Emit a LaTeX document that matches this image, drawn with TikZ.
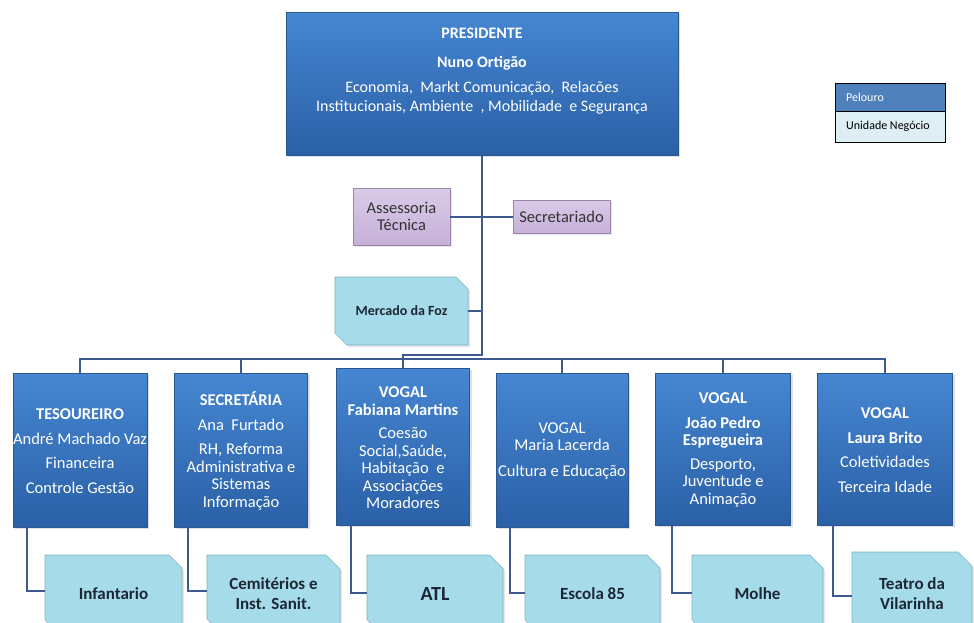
\documentclass[tikz,border=0pt]{standalone}
\usepackage{fontspec}
\setmainfont{Carlito}
\usetikzlibrary{shapes.misc,shadows}
\definecolor{bluetop}{HTML}{4686D2}
\definecolor{bluebot}{HTML}{2A60A6}
\definecolor{blueline}{HTML}{2B5791}
\definecolor{conn}{HTML}{3D5A8E}
\definecolor{cyanfill}{HTML}{A6DBE9}
\definecolor{cyanline}{HTML}{7DB3C4}
\definecolor{cyantext}{HTML}{1B2636}
\definecolor{lilac}{HTML}{C6B0D9}
\definecolor{lilactop}{HTML}{DACBE7}
\definecolor{lilacline}{HTML}{9C86B1}
\definecolor{legblue}{HTML}{4F81BD}
\definecolor{leglight}{HTML}{DDEEF5}
\tikzset{
  pelbox/.style={rectangle, draw=blueline, line width=0.6pt, top color=bluetop, bottom color=bluebot,
    text=white, align=center, inner sep=0pt,
    drop shadow={opacity=0.25, shadow xshift=2pt, shadow yshift=-2pt}},
  unibox/.style={chamfered rectangle, chamfered rectangle corners={north east,south west},
    chamfered rectangle xsep=7pt, chamfered rectangle ysep=7pt,
    draw=cyanline, line width=0.6pt, fill=cyanfill, text=cyantext, align=center, inner sep=0pt,
    font=\fontsize{17}{20}\selectfont\bfseries,
    drop shadow={opacity=0.2, shadow xshift=2pt, shadow yshift=-2pt}},
  lilbox/.style={rectangle, draw=lilacline, line width=0.6pt, top color=lilactop, bottom color=lilac,
    text=black!80, align=center, inner sep=0pt, font=\fontsize{16.5}{17}\selectfont,
    drop shadow={opacity=0.2, shadow xshift=2pt, shadow yshift=-2pt}},
  wire/.style={draw=conn, line width=2pt},
  bluetext/.style={text=white, align=center, inner sep=0pt, font=\fontsize{16.5}{17.5}\selectfont},
}
\begin{document}
\begin{tikzpicture}[x=1pt,y=-1pt]
\clip (0,0) rectangle (974,622);
% president
\node[pelbox, minimum width=392pt, minimum height=143pt] (pres) at (482,83.5) {};
\node[bluetext, font=\fontsize{16}{19}\selectfont] (prestext) at (482,71) {\textbf{PRESIDENTE}\\[10pt]\textbf{Nuno Ortigão}\\[6pt]Economia, \ Markt Comunicação, \ Relacões\\Institucionais, Ambiente \ , Mobilidade \ e Segurança};
% legend
\node[rectangle, draw=black, fill=legblue, minimum width=110pt, minimum height=28pt, inner sep=0pt] (legp) at (890,97) {};
\node[anchor=west, text=white, font=\fontsize{12}{13}\selectfont, inner sep=0pt] (legptext) at (846,97) {Pelouro};
\node[rectangle, draw=black, fill=leglight, minimum width=110pt, minimum height=31pt, inner sep=0pt] (legu) at (890,126.5) {};
\node[anchor=west, text=black, font=\fontsize{12}{13}\selectfont, inner sep=0pt] (legutext) at (846,126.5) {Unidade Negócio};
% staff
\node[lilbox, minimum width=97pt, minimum height=57pt] (ass) at (401.5,216.5) {Assessoria\\Técnica};
\node[lilbox, minimum width=97pt, minimum height=33pt] (sct) at (561.5,216.5) {Secretariado};
\node[unibox, minimum width=133pt, minimum height=68pt, font=\fontsize{14}{16}\selectfont\bfseries] (mer) at (401.5,311) {Mercado da Foz};
% lower pelouros
\node[pelbox, minimum width=134pt, minimum height=154pt] (tes) at (80,450) {};
\node[bluetext] (testext) at (80,451) {\textbf{TESOUREIRO}\\[7pt]André Machado Vaz\\[7pt]Financeira\\[7pt]Controle Gestão};
\node[pelbox, minimum width=133pt, minimum height=154pt] (sec) at (241,450) {};
\node[bluetext] (sectext) at (241,451) {\textbf{SECRETÁRIA}\\[7pt]Ana \ Furtado\\[7pt]RH, Reforma\\Administrativa e\\Sistemas\\Informação};
\node[pelbox, minimum width=133pt, minimum height=157pt] (fab) at (403,446.5) {};
\node[bluetext] (fabtext) at (403,448) {\textbf{VOGAL}\\\textbf{Fabiana Martins}\\[6pt]Coesão\\Social,Saúde,\\Habitação \ e\\Associações\\Moradores};
\node[pelbox, minimum width=132pt, minimum height=154pt] (mar) at (562,450) {};
\node[bluetext] (martext) at (562,451) {VOGAL\\Maria Lacerda\\[8pt]Cultura e Educação};
\node[pelbox, minimum width=135pt, minimum height=152pt] (joa) at (723,449) {};
\node[bluetext] (joatext) at (723,450) {\textbf{VOGAL}\\[7pt]\textbf{João Pedro}\\\textbf{Espregueira}\\[6pt]Desporto,\\Juventude e\\Animação};
\node[pelbox, minimum width=135pt, minimum height=152pt] (lau) at (885,449) {};
\node[bluetext] (lautext) at (885,450) {\textbf{VOGAL}\\[7pt]\textbf{Laura Brito}\\[7pt]Coletividades\\[7pt]Terceira Idade};
% unidades
\node[unibox, minimum width=137pt, minimum height=78pt] (inf) at (113.5,594) {Infantario};
\node[unibox, minimum width=133pt, minimum height=78pt] (cem) at (273.5,594) {Cemitérios e\\Inst. Sanit.};
\node[unibox, minimum width=136pt, minimum height=78pt, font=\fontsize{20}{22}\selectfont\bfseries] (atl) at (435,594) {ATL};
\node[unibox, minimum width=135pt, minimum height=78pt] (esc) at (592.5,594) {Escola 85};
\node[unibox, minimum width=131pt, minimum height=78pt] (mol) at (757.5,594) {Molhe};
\node[unibox, minimum width=120pt, minimum height=84pt] (tea) at (912,594) {Teatro da\\Vilarinha};
% connectors
\coordinate (j1) at (482,355);
\coordinate (j2) at (403,355);
\coordinate (bus) at (0,359);
\draw[wire] (pres.south) -- (j1) -- (j2) -- (fab.north);
\draw[wire] (ass.east) -- (sct.west);
\draw[wire] (mer.east) -- (mer.east -| pres.south);
\draw[wire] (tes.north) -- (tes.north |- bus) -- (lau.north |- bus) -- (lau.north);
\draw[wire] (sec.north) -- (sec.north |- bus);
\draw[wire] (mar.north) -- (mar.north |- bus);
\draw[wire] (joa.north) -- (joa.north |- bus);
\draw[wire] ([xshift=-53pt]tes.south) |- ([yshift=3pt]inf.west);
\draw[wire] ([xshift=-53pt]sec.south) |- ([yshift=3pt]cem.west);
\draw[wire] ([xshift=-52pt]fab.south) |- ([yshift=1pt]atl.west);
\draw[wire] ([xshift=-52pt]mar.south) |- ([yshift=1pt]esc.west);
\draw[wire] ([xshift=-51pt]joa.south) |- ([yshift=1pt]mol.west);
\draw[wire] ([xshift=-52pt]lau.south) |- ([yshift=-2pt]tea.west);
\end{tikzpicture}
\end{document}
